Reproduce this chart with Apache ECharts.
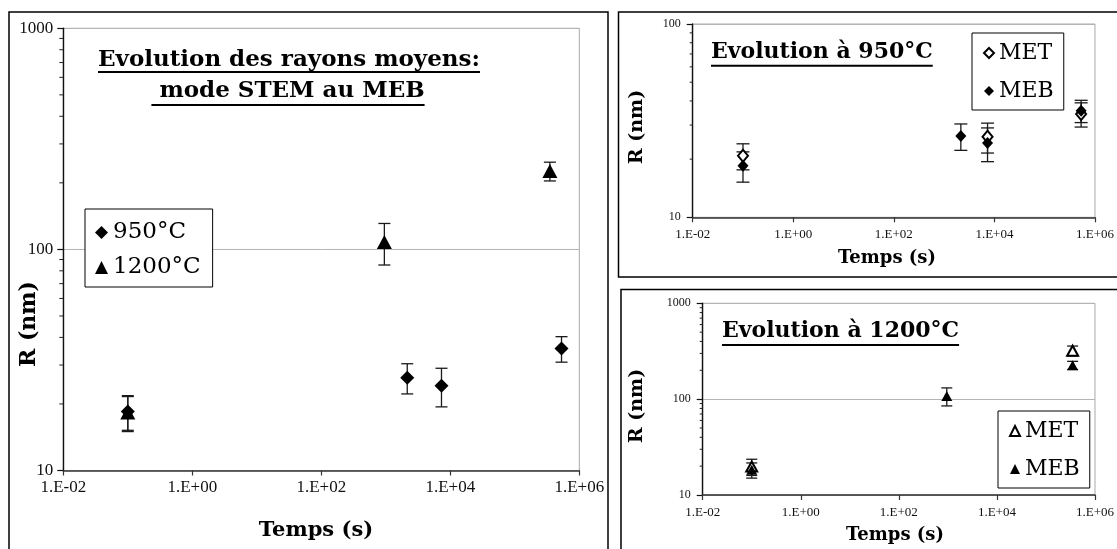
<!DOCTYPE html>
<html><head><meta charset="utf-8">
<script src="https://cdn.jsdelivr.net/npm/echarts@6/dist/echarts.min.js"></script>
<style>html,body{margin:0;padding:0;background:#fff}#c{width:1117px;height:549px}</style>
</head><body><div id="c"></div>
<script>
// ---- data ----
const times950 = [0.1, 2150, 7300, 530000];
const meb950 = [18.5, 26.3, 24.2, 35.6];
const meb950Err = [3.3, 4.1, 4.8, 4.7];
const met950 = [20.8, null, 26.1, 34.2];
const met950Err = [3.2, null, 4.6, 4.9];
const times1200 = [0.1, 950, 350000];
const meb1200 = [18.3, 108, 226];
const meb1200Err = [3.3, 23, 22];
const met1200 = [19.8, null, 320];
const met1200Err = [3.8, null, 38];
const xTickLabels = ['1.E-02', '1.E+00', '1.E+02', '1.E+04', '1.E+06'];
const yMinorTicks = [20, 30, 40, 50, 60, 70, 80, 90, 200, 300, 400, 500, 600, 700, 800, 900];
const mainTitle = ['Evolution des rayons moyens:', ' mode STEM au MEB'];
const title950 = 'Evolution à 950°C';
const title1200 = 'Evolution à 1200°C';
const xName = 'Temps (s)';
const yName = 'R (nm)';

// ---- helpers ----
const GEO = "'DejaVu Serif', serif";
const TNR = "'Liberation Serif', serif";
function pts(xs, ys) { return xs.map((x, i) => ys[i] == null ? null : [x, ys[i]]).filter(Boolean); }
function errs(xs, ys, es) { return xs.map((x, i) => ys[i] == null ? null : [x, ys[i] - es[i], ys[i] + es[i]]).filter(Boolean); }
function xLabel(v) { const e = Math.round(Math.log10(v)); return xTickLabels[(e + 2) / 2] || ''; }
function errBar(cap, idx, name, data) {
  return {
    type: 'custom', name: name, xAxisIndex: idx, yAxisIndex: idx, z: 1, silent: true,
    encode: { x: 0, y: [1, 2] }, data: data,
    renderItem: function (params, api) {
      const x = api.value(0), lo = api.value(1), hi = api.value(2);
      const a = api.coord([x, hi]), b = api.coord([x, lo]);
      const st = { stroke: '#1a1a1a', lineWidth: 1.3 };
      return { type: 'group', children: [
        { type: 'line', shape: { x1: a[0], y1: a[1], x2: b[0], y2: b[1] }, style: st },
        { type: 'line', shape: { x1: a[0] - cap, y1: a[1], x2: a[0] + cap, y2: a[1] }, style: st },
        { type: 'line', shape: { x1: b[0] - cap, y1: b[1], x2: b[0] + cap, y2: b[1] }, style: st }
      ] };
    }
  };
}
function minorTicks(idx, len, maxV) {
  return {
    type: 'custom', xAxisIndex: idx, yAxisIndex: idx, silent: true, clip: false,
    data: yMinorTicks.filter(v => v < maxV).map(v => [0.01, v]),
    renderItem: function (params, api) {
      const p = api.coord([api.value(0), api.value(1)]);
      return { type: 'line', shape: { x1: p[0] - len, y1: p[1], x2: p[0], y2: p[1] }, style: { stroke: '#222', lineWidth: 1 } };
    }
  };
}
function xAxisCfg(idx, fs, margin) {
  return {
    type: 'log', logBase: 10, gridIndex: idx, min: 0.01, max: 1e6, interval: 2,
    axisLine: { lineStyle: { color: '#333', width: 1.6 } },
    axisTick: { show: true, length: 5, lineStyle: { color: '#333', width: 1.2 } },
    axisLabel: { formatter: xLabel, fontFamily: TNR, fontSize: fs, color: '#111', margin: margin },
    splitLine: { show: false }, minorTick: { show: false }
  };
}
function yAxisCfg(idx, max, fs, margin) {
  return {
    type: 'log', logBase: 10, gridIndex: idx, min: 10, max: max, interval: 1,
    axisLine: { show: true, lineStyle: { color: '#111', width: 1.4 } },
    axisTick: { show: true, length: 6, lineStyle: { color: '#111', width: 1.2 } },
    axisLabel: { formatter: v => String(Math.round(v)), fontFamily: TNR, fontSize: fs, color: '#111', margin: margin },
    splitLine: { show: true, lineStyle: { color: '#b4b4b4', width: 1 } }
  };
}
const mctx = document.createElement('canvas').getContext('2d');
function tw(text, font) { mctx.font = font; return mctx.measureText(text).width; }

// ---- titles & axis names (graphic) ----
const fMain = 'bold 23px ' + GEO;
const fSmallT = 'bold 22px ' + GEO;
const gr = [];
function frame(x, y, w, h) { gr.push({ type: 'rect', shape: { x: x, y: y, width: w, height: h }, style: { fill: 'none', stroke: '#000', lineWidth: 1.5 }, z: 100 }); }
frame(9, 12, 599, 560);
frame(618.5, 12, 520, 265);
frame(621, 289.5, 520, 280);
function uText(text, font, cx, cy, align, ulY) {
  const w = tw(text, font);
  const x0 = align === 'center' ? cx - w / 2 : cx;
  gr.push({ type: 'text', x: cx, y: cy, style: { text: text, font: font, fill: '#000', align: align, verticalAlign: 'middle' }, z: 100 });
  gr.push({ type: 'line', shape: { x1: x0, y1: ulY, x2: x0 + w, y2: ulY }, style: { stroke: '#000', lineWidth: 2 }, z: 100 });
}
uText(mainTitle[0], fMain, 289, 60, 'center', 72);
uText(mainTitle[1], fMain, 288, 91, 'center', 105);
uText(title950, fSmallT, 711, 52, 'left', 65.7);
uText(title1200, fSmallT, 722, 331, 'left', 345);
function nameText(text, font, x, y, rot) {
  gr.push({ type: 'text', x: x, y: y, rotation: rot ? Math.PI / 2 : 0, style: { text: text, font: font, fill: '#000', align: 'center', verticalAlign: 'middle' }, z: 100 });
}
nameText(xName, 'bold 21px ' + GEO, 316, 531, false);
nameText(yName, 'bold 22px ' + GEO, 29, 324, true);
nameText(xName, 'bold 18px ' + GEO, 887, 258, false);
nameText(yName, 'bold 19px ' + GEO, 637, 127, true);
nameText(xName, 'bold 18px ' + GEO, 895, 535, false);
nameText(yName, 'bold 19px ' + GEO, 637, 406, true);

function legendCfg(left, top, names, icons, fs, lh, gap, pad, iw) {
  return {
    left: left, top: top, orient: 'vertical', selectedMode: false,
    backgroundColor: '#fff', borderColor: '#000', borderWidth: 1, borderRadius: 0,
    padding: pad, itemGap: gap, itemWidth: iw, itemHeight: iw,
    data: names.map((n, i) => ({ name: n, icon: icons[i] })),
    formatter: n => n.split('|')[0],
    textStyle: { fontFamily: GEO, fontSize: fs, lineHeight: lh, color: '#000' }
  };
}

const option = {
  animation: false,
  backgroundColor: '#fff',
  grid: [
    { left: 63.3, top: 28.3, width: 516, height: 442.2, show: true, borderColor: '#a8a8a8', borderWidth: 1 },
    { left: 692.7, top: 24, width: 404, height: 193.3, show: true, borderColor: '#a8a8a8', borderWidth: 1 },
    { left: 702.7, top: 303.3, width: 393.3, height: 191.7, show: true, borderColor: '#a8a8a8', borderWidth: 1 }
  ],
  xAxis: [xAxisCfg(0, 17, 9), xAxisCfg(1, 13, 11), xAxisCfg(2, 13, 11)],
  yAxis: [yAxisCfg(0, 1000, 17, 10), yAxisCfg(1, 100, 12, 12), yAxisCfg(2, 1000, 12, 12)],
  legend: [
    legendCfg(85, 209, ['950°C', '1200°C'], ['diamond', 'triangle'], 23, 27, 8, [10, 12, 6, 10], 13),
    legendCfg(972, 33, ['MET|950', 'MEB|950'], ['emptyDiamond', 'diamond'], 22, 28, 10, [6, 10, 5, 11], 10),
    legendCfg(998, 411, ['MET|1200', 'MEB|1200'], ['emptyTriangle', 'triangle'], 22, 28, 10, [6, 10, 5, 11], 10)
  ],
  graphic: gr,
  series: [
    // main chart
    minorTicks(0, 4, 1000),
    errBar(6, 0, 'err950', errs(times950, meb950, meb950Err)),
    errBar(6, 0, 'err1200', errs(times1200, meb1200, meb1200Err)),
    { type: 'scatter', name: '950°C', xAxisIndex: 0, yAxisIndex: 0, z: 3, symbol: 'diamond', symbolSize: [14, 14], itemStyle: { color: '#000', opacity: 1 }, data: pts(times950, meb950) },
    { type: 'scatter', name: '1200°C', xAxisIndex: 0, yAxisIndex: 0, z: 3, symbol: 'triangle', symbolSize: [15, 14], itemStyle: { color: '#000', opacity: 1 }, data: pts(times1200, meb1200) },
    // 950 chart
    minorTicks(1, 3, 100),
    errBar(6.5, 1, 'errMET950', errs(times950, met950, met950Err)),
    errBar(6.5, 1, 'errMEB950', errs(times950, meb950, meb950Err)),
    { type: 'scatter', name: 'MET|950', xAxisIndex: 1, yAxisIndex: 1, z: 3, symbol: 'emptyDiamond', symbolSize: [10, 12], itemStyle: { color: '#000', borderWidth: 1, opacity: 1 }, data: pts(times950, met950) },
    { type: 'scatter', name: 'MEB|950', xAxisIndex: 1, yAxisIndex: 1, z: 4, symbol: 'diamond', symbolSize: [11, 12], itemStyle: { color: '#000', opacity: 1 }, data: pts(times950, meb950) },
    // 1200 chart
    minorTicks(2, 3, 1000),
    errBar(5.5, 2, 'errMET1200', errs(times1200, met1200, met1200Err)),
    errBar(5.5, 2, 'errMEB1200', errs(times1200, meb1200, meb1200Err)),
    { type: 'scatter', name: 'MET|1200', xAxisIndex: 2, yAxisIndex: 2, z: 3, symbol: 'emptyTriangle', symbolSize: [11, 10], itemStyle: { color: '#000', borderWidth: 1, opacity: 1 }, data: pts(times1200, met1200) },
    { type: 'scatter', name: 'MEB|1200', xAxisIndex: 2, yAxisIndex: 2, z: 4, symbol: 'triangle', symbolSize: [11, 10], itemStyle: { color: '#000', opacity: 1 }, data: pts(times1200, meb1200) }
  ]
};
const chart = echarts.init(document.getElementById('c'), null, { renderer: 'canvas' });
chart.setOption(option);
</script>
</body></html>
